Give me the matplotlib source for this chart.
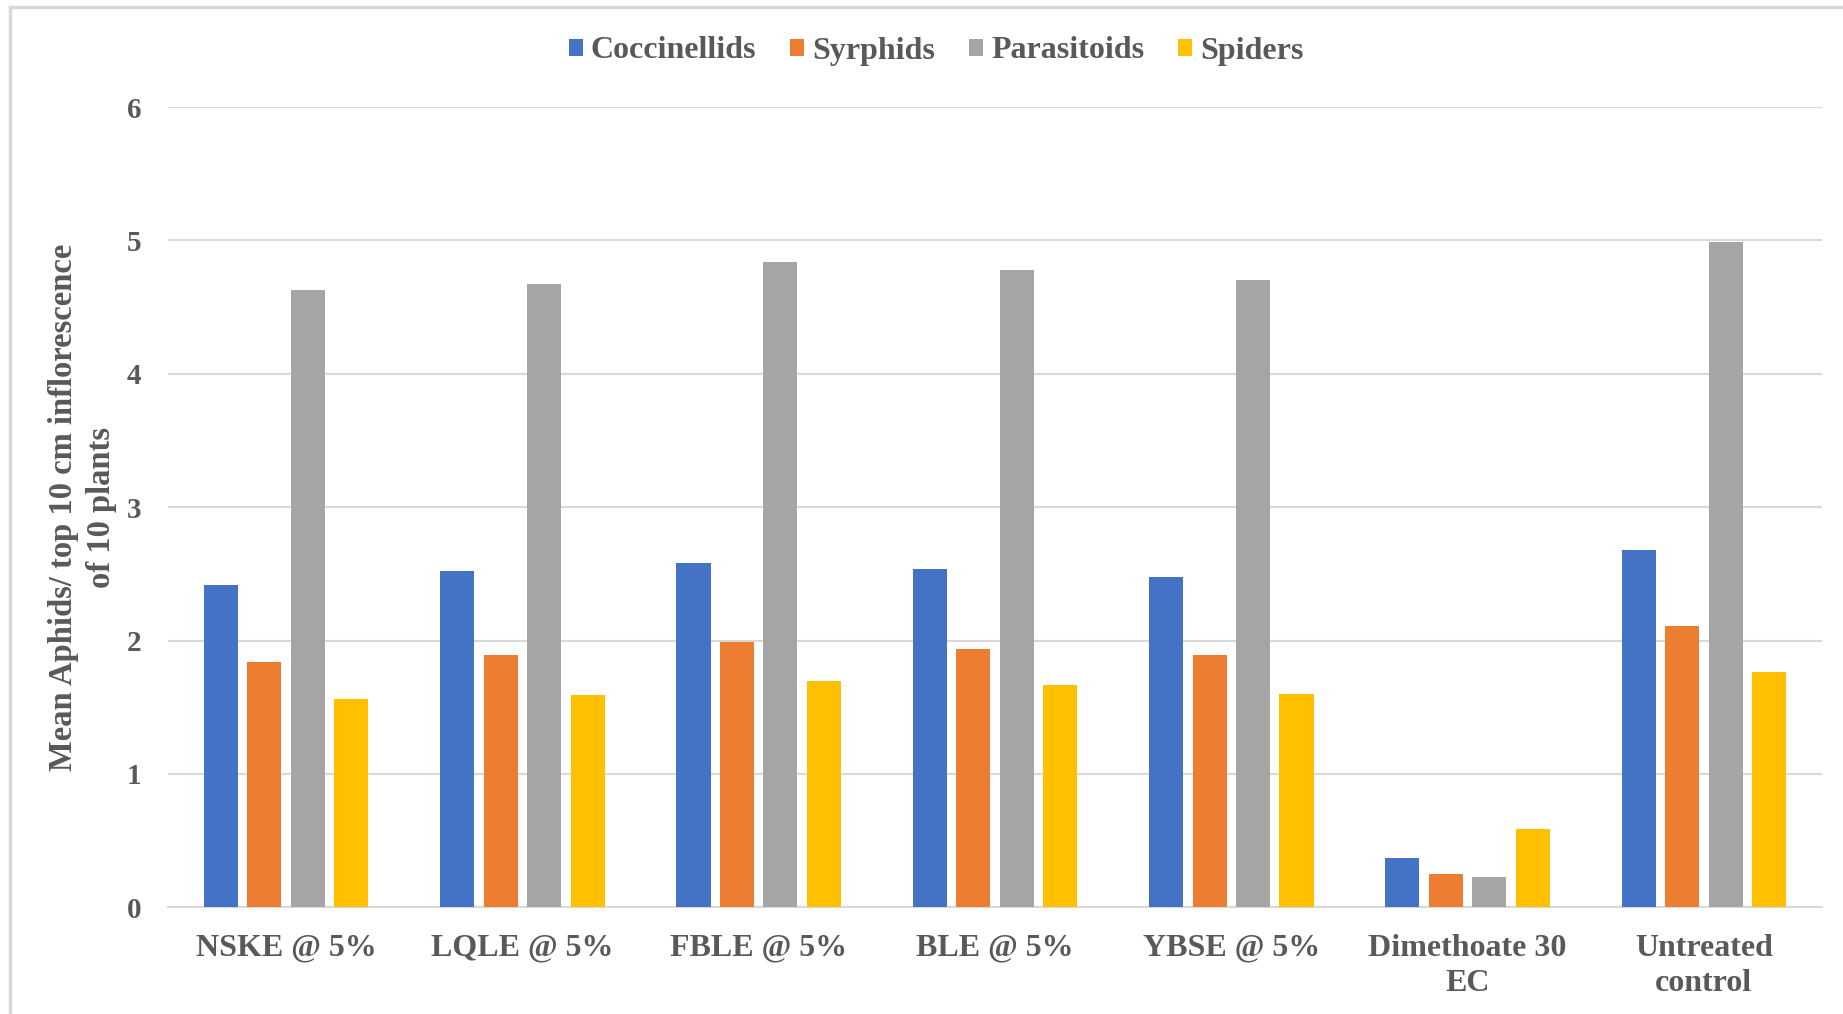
import matplotlib
matplotlib.use("Agg")
import matplotlib.pyplot as plt
from matplotlib.lines import Line2D
import numpy as np

categories = ["NSKE @ 5%", "LQLE @ 5%", "FBLE @ 5%", "BLE @ 5%", "YBSE @ 5%",
              "Dimethoate 30\nEC", "Untreated\ncontrol"]
series_names = ["Coccinellids", "Syrphids", "Parasitoids", "Spiders"]
coccinellids = [2.42, 2.52, 2.58, 2.54, 2.48, 0.37, 2.68]
syrphids = [1.84, 1.89, 1.99, 1.94, 1.89, 0.25, 2.11]
parasitoids = [4.63, 4.67, 4.84, 4.78, 4.70, 0.23, 4.99]
spiders = [1.56, 1.59, 1.70, 1.665, 1.60, 0.59, 1.765]
colors = ["#4472C4", "#ED7D31", "#A5A5A5", "#FFC000"]
y_ticks = [0, 1, 2, 3, 4, 5, 6]
ylabel = "Mean Aphids/ top 10 cm inflorescence\nof 10 plants"

plt.rcParams['font.family'] = ['Liberation Serif', 'DejaVu Serif']
plt.rcParams['font.weight'] = 'bold'
txt = "#595959"

W, H = 1843, 1014
fig = plt.figure(figsize=(W / 100, H / 100), dpi=100)
ax = fig.add_axes([168 / W, 1 - 907.3 / H, (1822 - 168) / W, (907.3 - 107) / H])

x = np.arange(len(categories))
stride = 0.184
width = 0.144
data = [coccinellids, syrphids, parasitoids, spiders]
for i, (name, vals, c) in enumerate(zip(series_names, data, colors)):
    ax.bar(x + (i - 1.5) * stride, vals, width, color=c, label=name, zorder=3)

ax.set_xlim(-0.5, len(categories) - 0.5)
ax.set_ylim(0, 6)
ax.set_yticks(y_ticks)
ax.set_yticklabels([str(t) for t in y_ticks], fontsize=21, color=txt, fontweight='bold')
ax.set_xticks(x)
ax.set_xticklabels(categories, fontsize=23, color=txt, fontweight='bold', linespacing=1.3)
ax.tick_params(axis='y', length=0, pad=19)
ax.tick_params(axis='x', length=0, pad=19)
ax.grid(axis='y', color="#D9D9D9", linewidth=1.5, zorder=0)
for s in ['top', 'right', 'left']:
    ax.spines[s].set_visible(False)
ax.spines['bottom'].set_color("#D9D9D9")
ax.spines['bottom'].set_linewidth(1.5)
ax.set_ylabel(ylabel, fontsize=23.5, color=txt, fontweight='bold', labelpad=7, linespacing=1.3)

leg = fig.legend(loc='center', bbox_to_anchor=(936 / W, 1 - 51 / H), ncol=4, frameon=False,
                 fontsize=23, handlelength=0.45, handleheight=0.45, handletextpad=0.25,
                 columnspacing=1.05)
for t in leg.get_texts():
    t.set_color(txt)
    t.set_fontweight('bold')

# chart area border (top and left visible)
fig.add_artist(Line2D([10 / W, 10 / W], [0, 1 - 7 / H], transform=fig.transFigure,
                      color="#D9D9D9", linewidth=2.5))
fig.add_artist(Line2D([10 / W, 1], [1 - 7 / H, 1 - 7 / H], transform=fig.transFigure,
                      color="#D9D9D9", linewidth=2.5))

fig.savefig("out.png", dpi=100, facecolor="white")
